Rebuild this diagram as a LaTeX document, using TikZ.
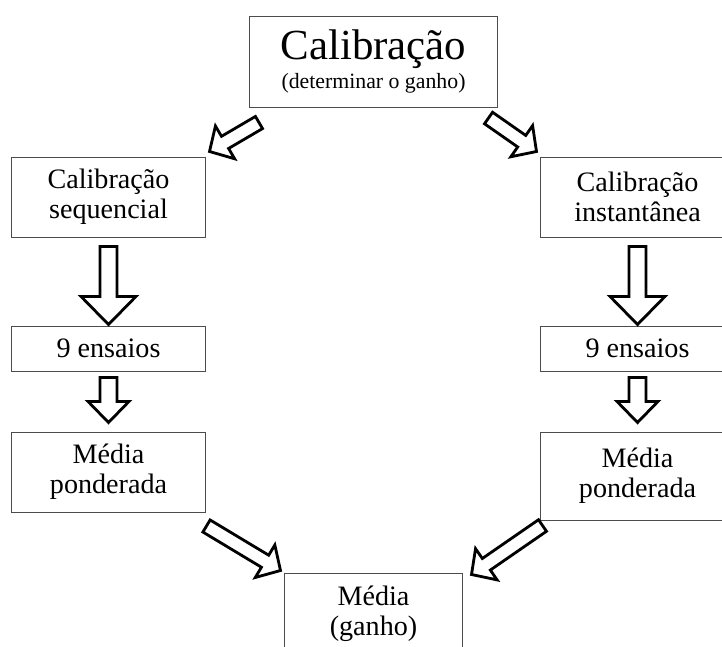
\documentclass[tikz,border=0pt]{standalone}
\usepackage{fontspec}
\setmainfont{Liberation Serif}
\usetikzlibrary{calc}

\tikzset{
  caixa/.style={draw=black!70, line width=0.7pt, align=center, inner sep=0pt,
    minimum width=4.825cm, font=\fontsize{20}{21.5}\selectfont},
  setao/.style={draw=black, fill=white, line width=2pt, line join=miter}
}

% seta larga: cauda, ponta, meia haste, meia cabeca, comprimento da cabeca
\newcommand{\setalarga}[5]{%
  \coordinate (cab) at ($(#2)!#5!(#1)$);
  \draw[setao] ($(#1)!#3!90:(#2)$) -- ($(cab)!#3!90:(#2)$) -- ($(cab)!#4!90:(#2)$)
    -- (#2) -- ($(cab)!#4!-90:(#2)$) -- ($(cab)!#3!-90:(#2)$) -- ($(#1)!#3!-90:(#2)$) -- cycle;
}

\begin{document}
\begin{tikzpicture}[x=0.025cm, y=-0.025cm]
\useasboundingbox (0,0) rectangle (722,646);

% Caixa principal
\node[caixa, minimum width=6.175cm, minimum height=2.275cm, font=\fontsize{15.5}{20}\selectfont]
  (calib) at (373.5,61.5) {{\fontsize{30.5}{20}\selectfont Calibração}\\(determinar o ganho)};

% Ramo esquerdo
\node[caixa, minimum height=2cm] (seq) at (108.5,197) {Calibração\\sequencial};
\node[caixa, minimum height=1.125cm] (ens1) at (108.5,348.5) {9 ensaios};
\node[caixa, minimum height=2cm] (med1) at (108.5,472) {Média\\ponderada};

% Ramo direito
\node[caixa, minimum height=2cm] (inst) at (637.5,197) {Calibração\\instantânea};
\node[caixa, minimum height=1.125cm] (ens2) at (637.5,348.5) {9 ensaios};
\node[caixa, minimum height=2.2cm] (med2) at (637.5,476) {Média\\ponderada};

% Resultado final
\node[caixa, minimum width=4.425cm, minimum height=2.05cm] (ganho) at (373.5,614) {Média\\(ganho)};

% Pontas das setas
\coordinate (c1) at ($(calib.south west)+(9.5,15)$);
\coordinate (p1) at ($(seq.north east)+(4,-5)$);
\coordinate (c2) at ($(calib.south east)+(-9,10.5)$);
\coordinate (p2) at ($(inst.north west)+(-4,-5)$);
\coordinate (c3) at ($(seq.south)+(0,9)$);
\coordinate (p3) at ($(ens1.north)+(0,-1)$);
\coordinate (c4) at ($(inst.south)+(0,9)$);
\coordinate (p4) at ($(ens2.north)+(0,-1)$);
\coordinate (c5) at ($(ens1.south)+(0,6)$);
\coordinate (p5) at ($(med1.north)+(0,-9)$);
\coordinate (c6) at ($(ens2.south)+(0,6)$);
\coordinate (p6) at ($(med2.north)+(0,-9)$);
\coordinate (c7) at ($(med1.south east)+(1,13.5)$);
\coordinate (p7) at ($(ganho.north west)+(-4,-2)$);
\coordinate (c8) at ($(med2.south west)+(2,5)$);
\coordinate (p8) at ($(ganho.north east)+(9,2)$);

% Setas diagonais
\setalarga{c1}{p1}{5pt}{13.5pt}{12.8pt}
\setalarga{c2}{p2}{5pt}{13.5pt}{12.8pt}
\setalarga{c7}{p7}{5pt}{13.5pt}{12.8pt}
\setalarga{c8}{p8}{5pt}{13.5pt}{12.8pt}

% Setas verticais
\setalarga{c3}{p3}{6pt}{19.5pt}{19.9pt}
\setalarga{c4}{p4}{6pt}{19.5pt}{19.9pt}
\setalarga{c5}{p5}{6pt}{14.6pt}{15pt}
\setalarga{c6}{p6}{6pt}{14.6pt}{15pt}
\end{tikzpicture}
\end{document}
